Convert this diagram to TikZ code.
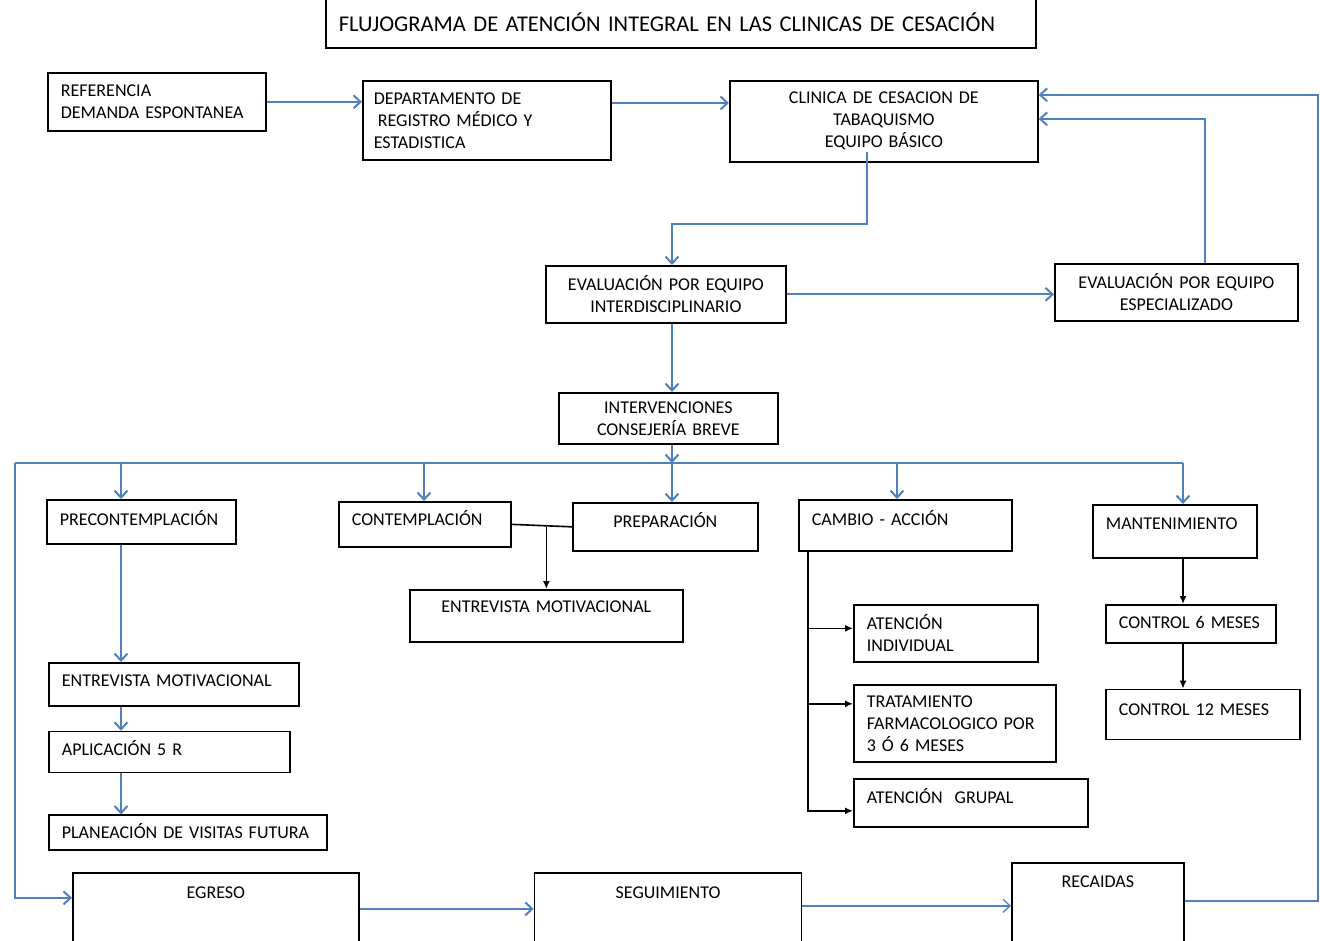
\documentclass[tikz,border=0pt]{standalone}
\usepackage{fontspec}
\setmainfont{Carlito}
\usetikzlibrary{arrows.meta}
\usetikzlibrary{calc}
\usetikzlibrary{positioning}
\definecolor{azul}{RGB}{79,129,189}

\begin{document}
\begin{tikzpicture}[x=1pt,y=-1pt,
  box/.style={draw,line width=1.7pt,anchor=north west,inner xsep=13pt,inner ysep=0pt,align=left,font=\fontsize{18}{22}\selectfont},
  cbox/.style={box,align=center},
  bus/.style={draw=azul,line width=2pt},
  flow/.style={bus,-{Straight Barb[length=7pt,width=13pt]}},
  conn/.style={draw,line width=1.6pt},
  blk/.style={conn,-{Latex[length=8pt,width=7pt]}}]

\useasboundingbox (0,0) rectangle (1320,941);

\node[box,text width=684pt,text height=41pt,text depth=16pt,font=\fontsize{22.5}{27}\selectfont] (title) at (325,-10) {FLUJOGRAMA DE ATENCIÓN INTEGRAL EN LAS CLINICAS DE CESACIÓN};

\node[box,text width=192pt,minimum height=58pt] (ref) at (47,72) {REFERENCIA\\DEMANDA ESPONTANEA};
\node[box,text width=226pt,minimum height=79pt,inner xsep=11pt] (dep) at (362,80) {DEPARTAMENTO DE\\\hspace{4pt}REGISTRO MÉDICO Y\\ESTADISTICA};
\node[cbox,text width=282pt,minimum height=81pt] (clin) at (729,80) {CLINICA DE CESACION DE\\TABAQUISMO\\EQUIPO BÁSICO};

\node[cbox,text width=214pt,minimum height=57pt] (evi) at (545,265) {EVALUACIÓN POR EQUIPO\\INTERDISCIPLINARIO};
\node[cbox,text width=217pt,minimum height=57pt] (eve) at (1054,263) {EVALUACIÓN POR EQUIPO\\ESPECIALIZADO};
\node[cbox,text width=193pt,minimum height=51pt] (int) at (558,392) {INTERVENCIONES\\CONSEJERÍA BREVE};

\node[box,text width=163pt,text height=26pt,text depth=18pt] (pre) at (46,499) {PRECONTEMPLACIÓN};
\node[box,text width=146pt,text height=24pt,text depth=21pt] (cont) at (338,501) {CONTEMPLACIÓN};
\node[cbox,text width=159pt,text height=25pt,text depth=23pt] (prep) at (572,502) {PREPARACIÓN};
\node[cbox,text width=247pt,text height=23pt,text depth=29pt] (em2) at (409,589) {ENTREVISTA MOTIVACIONAL};
\node[box,text width=187pt,text height=26pt,text depth=25pt] (camb) at (798,499) {CAMBIO - ACCIÓN};
\node[box,text width=138pt,text height=25pt,text depth=28pt] (mant) at (1092,504) {MANTENIMIENTO};

\node[box,text width=144pt,text height=24pt,text depth=14pt] (c6) at (1105,604) {CONTROL 6 MESES};
\node[box,text width=168pt,text height=26pt,text depth=24pt,below=45pt of c6.south west,anchor=north west] (c12) {CONTROL 12 MESES};

\node[box,text width=158pt,minimum height=57pt] (ati) at (853,604) {ATENCIÓN\\INDIVIDUAL};
\node[box,text width=176pt,minimum height=77pt] (tra) at (853,684) {TRATAMIENTO\\FARMACOLOGICO POR\\3 Ó 6 MESES};
\node[box,text width=208pt,text height=25pt,text depth=23pt] (gru) at (853,778) {ATENCIÓN\ \ GRUPAL};

\node[box,text width=224pt,text height=24pt,text depth=19pt] (em1) at (48,662) {ENTREVISTA MOTIVACIONAL};
\node[box,text width=215pt,text height=24pt,text depth=17pt,below=24pt of em1.south west,anchor=north west] (ap) {APLICACIÓN 5 R};
\node[box,text width=252pt,text height=23pt,text depth=12pt,below=41pt of ap.south west,anchor=north west] (pla) {PLANEACIÓN DE VISITAS FUTURA};

\node[cbox,text width=260pt,text height=26pt,text depth=62pt] (egr) at (72,872) {EGRESO};
\node[cbox,text width=241pt,text height=26pt,text depth=62pt,right=174pt of egr] (seg) {SEGUIMIENTO};
\node[cbox,text width=146pt,text height=25pt,text depth=73pt] (reca) at (1011,862) {RECAIDAS};

\coordinate (b0) at (15,463);
\coordinate (b1) at (121,463);
\coordinate (b2) at (424,463);
\coordinate (b3) at (672,463);
\coordinate (b4) at (897,463);
\coordinate (b5) at (1183,463);
\coordinate (trunk) at ([xshift=10pt]camb.south west);

\draw[flow] (ref.east) -- (ref.east -| dep.west);
\draw[flow] ([yshift=-23pt]dep.north east) -- ([yshift=-23pt]clin.north west);
\draw[flow] ([xshift=-17pt,yshift=11pt]clin.south) -- ++(0,72) -| (evi.north -| b3);
\draw[flow] (evi.east) -- (evi.east -| eve.west);
\draw[flow] ([xshift=28.5pt]eve.north) |- ([yshift=2.5pt]clin.east);
\draw[flow] (evi.south -| b3) -- (int.north -| b3);

\draw[bus] (b0) -- (b5);
\draw[flow] (int.south -| b3) -- (b3);
\draw[flow] (b1) -- (b1 |- pre.north);
\draw[flow] (b2) -- (b2 |- cont.north);
\draw[flow] (b3) -- (b3 |- prep.north);
\draw[flow] (b4) -- (b4 |- camb.north);
\draw[flow] (b5) -- (b5 |- mant.north);
\draw[flow] (b0) |- ([yshift=19pt]egr.west);

\draw[flow] (pre.south -| b1) -- (em1.north -| b1);
\draw[flow] (em1.south -| b1) -- (ap.north -| b1);
\draw[flow] (ap.south -| b1) -- (pla.north -| b1);

\draw[conn] (cont.east) -- (prep.west);
\draw[blk] (em2.north |- prep.west) -- (em2.north);

\draw[blk] (ati.west) ++(-45,-5) -- ++(45,0);
\draw[blk] (tra.west) ++(-45,-19.5) -- ++(45,0);
\draw[blk] (trunk) |- ([yshift=-8pt]gru.west);

\draw[blk] (mant.south -| b5) -- (c6.north -| b5);
\draw[blk] (c6.south -| b5) -- (c12.north -| b5);

\draw[flow] ([yshift=8pt]egr.east) -- ([yshift=8pt]seg.west);
\draw[flow,line width=1.3pt] ([yshift=11pt]seg.east) -- ([yshift=6pt]reca.west);
\draw[flow] ([yshift=11pt]reca.east) -- ++(133,0) |- ([yshift=26.5pt]clin.east);
\end{tikzpicture}
\end{document}
